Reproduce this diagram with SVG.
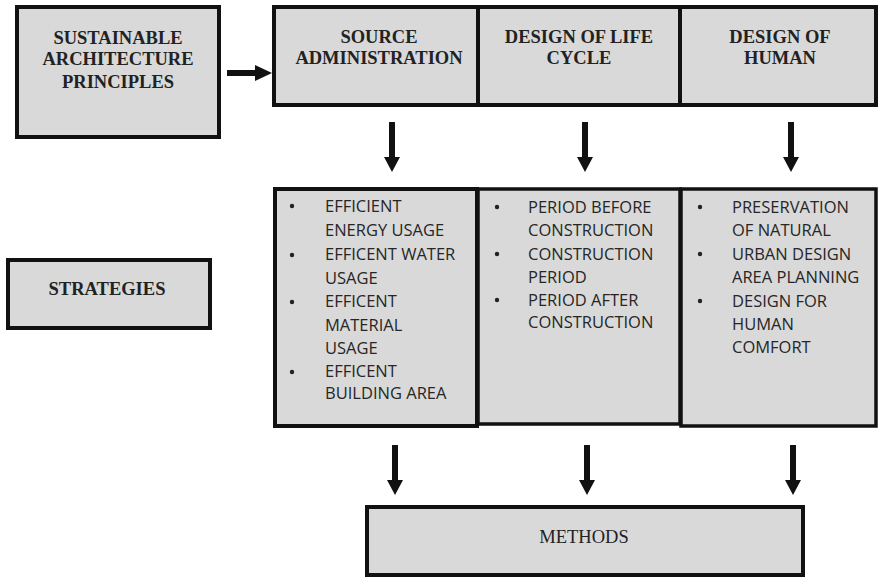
<svg xmlns="http://www.w3.org/2000/svg" width="879" height="578" viewBox="0 0 879 578">
<style>
.box{fill:#d9d9d9;stroke:#111;stroke-width:4}
.thin{fill:#d9d9d9;stroke:#111;stroke-width:3.5}
.hd{font-family:"Liberation Serif","Times New Roman",serif;font-size:18.5px;font-weight:bold;fill:#222;text-anchor:middle}
.rg{font-family:"Liberation Serif","Times New Roman",serif;font-size:18.5px;fill:#222;text-anchor:middle}
.li{font-family:"Open Sans","Noto Sans",sans-serif;font-size:16.5px;fill:#262626}
.arr{fill:#111}
.dot{fill:#222}
</style>
<rect width="879" height="578" fill="#fff"/>
<g id="principles">
<rect class="box" x="17" y="7" width="202" height="130"/>
<text class="hd" x="118" y="44">SUSTAINABLE</text>
<text class="hd" x="118" y="65">ARCHITECTURE</text>
<text class="hd" x="118" y="88">PRINCIPLES</text>
</g>
<g id="top-row">
<rect class="box" x="274" y="7" width="602" height="98"/>
<line x1="478" y1="7" x2="478" y2="105" stroke="#111" stroke-width="4"/>
<line x1="680" y1="7" x2="680" y2="105" stroke="#111" stroke-width="4"/>
</g>
<g id="source-admin">
<text class="hd" x="379" y="43">SOURCE</text>
<text class="hd" x="379" y="64">ADMINISTRATION</text>
</g>
<g id="life-cycle">
<text class="hd" x="579" y="43">DESIGN OF LIFE</text>
<text class="hd" x="579" y="64">CYCLE</text>
</g>
<g id="human">
<text class="hd" x="780" y="43">DESIGN OF</text>
<text class="hd" x="780" y="64">HUMAN</text>
</g>
<g id="strategies">
<rect class="box" x="8" y="260" width="202" height="68"/>
<text class="hd" x="107" y="295">STRATEGIES</text>
</g>
<g id="strat-source">
<rect class="box" x="275" y="189" width="202" height="237"/>
<circle class="dot" cx="292" cy="206" r="2.2"/>
<circle class="dot" cx="292" cy="255" r="2.2"/>
<circle class="dot" cx="292" cy="302" r="2.2"/>
<circle class="dot" cx="292" cy="372" r="2.2"/>
<text class="li" x="325" y="212">EFFICIENT</text>
<text class="li" x="325" y="236">ENERGY USAGE</text>
<text class="li" x="325" y="260">EFFICENT WATER</text>
<text class="li" x="325" y="284">USAGE</text>
<text class="li" x="325" y="307">EFFICENT</text>
<text class="li" x="325" y="331">MATERIAL</text>
<text class="li" x="325" y="354">USAGE</text>
<text class="li" x="325" y="377">EFFICENT</text>
<text class="li" x="325" y="399">BUILDING AREA</text>
</g>
<g id="strat-life">
<rect class="thin" x="478" y="189" width="202" height="235"/>
<circle class="dot" cx="497" cy="207" r="2.2"/>
<circle class="dot" cx="497" cy="254" r="2.2"/>
<circle class="dot" cx="497" cy="300" r="2.2"/>
<text class="li" x="528" y="213">PERIOD BEFORE</text>
<text class="li" x="528" y="236">CONSTRUCTION</text>
<text class="li" x="528" y="260">CONSTRUCTION</text>
<text class="li" x="528" y="283">PERIOD</text>
<text class="li" x="528" y="306">PERIOD AFTER</text>
<text class="li" x="528" y="328">CONSTRUCTION</text>
</g>
<g id="strat-human">
<rect class="thin" x="681" y="189" width="195" height="237"/>
<circle class="dot" cx="700" cy="207" r="2.2"/>
<circle class="dot" cx="700" cy="254" r="2.2"/>
<circle class="dot" cx="700" cy="301" r="2.2"/>
<text class="li" x="732" y="213">PRESERVATION</text>
<text class="li" x="732" y="236">OF NATURAL</text>
<text class="li" x="732" y="260">URBAN DESIGN</text>
<text class="li" x="732" y="283">AREA PLANNING</text>
<text class="li" x="732" y="307">DESIGN FOR</text>
<text class="li" x="732" y="330">HUMAN</text>
<text class="li" x="732" y="353">COMFORT</text>
</g>
<g id="methods">
<rect class="box" x="367" y="507" width="436" height="68"/>
<text class="rg" x="584" y="543">METHODS</text>
</g>
<g id="connectors">
<path class="arr" d="M227,70 H255 V65 L272,73 L255,81 V76 H227 Z"/>
<path class="arr" d="M389,122 H395 V157 H400 L392,172 L384,157 H389 Z"/>
<path class="arr" d="M582,122 H588 V157 H593 L585,172 L577,157 H582 Z"/>
<path class="arr" d="M788,122 H794 V157 H799 L791,172 L783,157 H788 Z"/>
<path class="arr" d="M392,445 H398 V480 H403 L395,495 L387,480 H392 Z"/>
<path class="arr" d="M584,445 H590 V480 H595 L587,495 L579,480 H584 Z"/>
<path class="arr" d="M790,445 H796 V480 H801 L793,495 L785,480 H790 Z"/>
</g>
</svg>
